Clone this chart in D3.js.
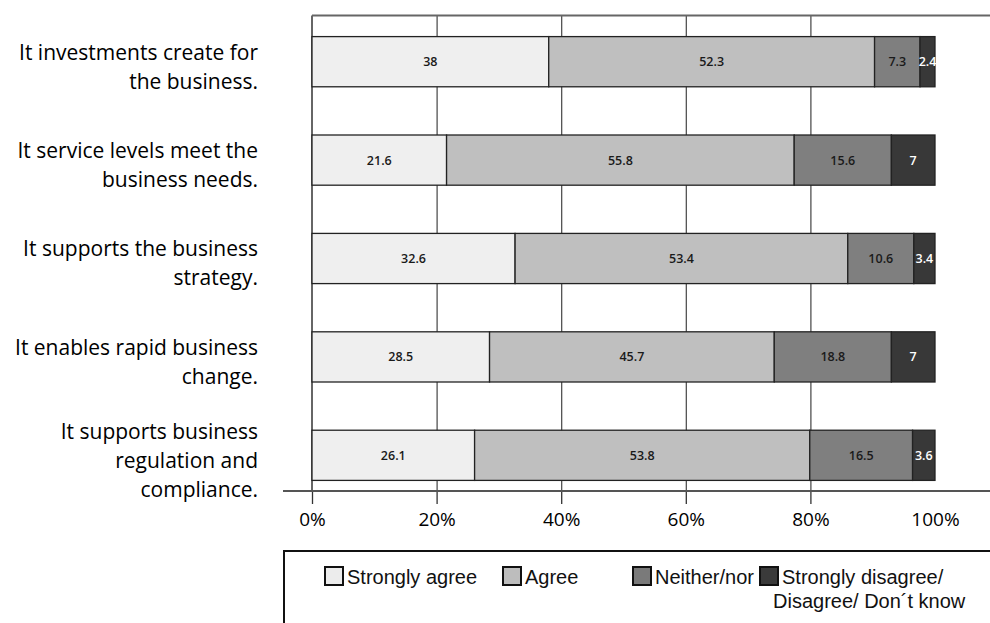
<!DOCTYPE html>
<html>
<head>
<meta charset="utf-8">
<script src="https://cdn.jsdelivr.net/npm/d3@7"></script>
<style>
  body { margin: 0; background: #fff; }
  svg { display: block; }
</style>
</head>
<body>
<svg id="chart"></svg>
<script>
let categories = [
  ["It investments create for", "the business."],
  ["It service levels meet the", "business needs."],
  ["It supports the business", "strategy."],
  ["It enables rapid business", "change."],
  ["It supports business", "regulation and", "compliance."]
]
let stronglyAgree = [38, 21.6, 32.6, 28.5, 26.1]
let agree = [52.3, 55.8, 53.4, 45.7, 53.8]
let neither = [7.3, 15.6, 10.6, 18.8, 16.5]
let disagree = [2.4, 7, 3.4, 7, 3.6]
let seriesNames = ["Strongly agree", "Agree", "Neither/nor", "Strongly disagree/ Disagree/ Don´t know"]
let tickValues = [0, 20, 40, 60, 80, 100]

let width = 990
let height = 623
let colors = ["#efefef", "#bfbfbf", "#7f7f7f", "#383838"]
let legendColors = ["#ececec", "#bdbdbd", "#7a7a7a", "#3a3a3a"]

let svg = d3.select("#chart").attr("width", width).attr("height", height)

let keys = ["sa", "a", "n", "d"]
let rows = categories.map((c, i) => ({
  idx: i, sa: stronglyAgree[i], a: agree[i], n: neither[i], d: disagree[i]
}))

let xScale = d3.scaleLinear().domain([0, 100]).range([312, 935])
let yScale = d3.scaleBand().domain(d3.range(categories.length))
  .range([12, 505]).paddingInner(0.49).paddingOuter(0.25)

let plotTop = 15.5
let plotBottom = 491

// gridlines between bars
svg.append("g")
  .attr("transform", "translate(0," + plotBottom + ")")
  .call(d3.axisBottom(xScale).tickValues([20, 40, 60, 80]).tickSize(-(plotBottom - plotTop)).tickFormat(""))
  .call(g => g.select(".domain").remove())
  .call(g => g.selectAll("line").attr("stroke", "#444").attr("stroke-width", 1.2))

// frame: top and left
svg.append("line").attr("x1", xScale(0)).attr("x2", width)
  .attr("y1", plotTop).attr("y2", plotTop).attr("stroke", "#666").attr("stroke-width", 2)
svg.append("line").attr("x1", xScale(0)).attr("x2", xScale(0))
  .attr("y1", plotTop).attr("y2", plotBottom).attr("stroke", "#666").attr("stroke-width", 2)

// stacked bars
let stack = d3.stack().keys(keys)(rows)
let layers = svg.append("g").selectAll("g")
  .data(stack).enter().append("g")
  .attr("fill", (d, i) => colors[i])

layers.selectAll("rect")
  .data(d => d).enter().append("rect")
  .attr("x", d => xScale(d[0]))
  .attr("width", d => xScale(d[1]) - xScale(d[0]))
  .attr("y", d => yScale(d.data.idx))
  .attr("height", yScale.bandwidth())
  .attr("stroke", "#222")
  .attr("stroke-width", 1.3)

layers.each(function (layer, li) {
  d3.select(this).selectAll("text")
    .data(layer).enter().append("text")
    .attr("x", d => (xScale(d[0]) + xScale(d[1])) / 2)
    .attr("y", d => yScale(d.data.idx) + yScale.bandwidth() / 2)
    .attr("dy", "0.36em")
    .attr("text-anchor", "middle")
    .attr("font-family", "Open Sans, sans-serif")
    .attr("font-size", 12.5)
    .attr("font-weight", 600)
    .attr("fill", li === 3 ? "#fff" : "#1a1a1a")
    .text(d => d[1] - d[0] > 0 ? d.data[layer.key] : "")
})

// category labels
let lineH = 29
let cat = svg.append("g").selectAll("text")
  .data(categories).enter().append("text")
  .attr("text-anchor", "end")
  .attr("font-family", "Open Sans, sans-serif")
  .attr("font-size", 21)
  .attr("fill", "#000")
  .attr("transform", (d, i) => {
    let cy = yScale(i) + yScale.bandwidth() / 2 + 5
    let y0 = cy - (d.length - 1) * lineH / 2
    return "translate(258," + y0 + ")"
  })
cat.selectAll("tspan")
  .data(d => d).enter().append("tspan")
  .attr("x", 0)
  .attr("y", (d, j) => j * lineH)
  .attr("dy", "0.35em")
  .text(d => d)

// x axis
let xAxis = d3.axisBottom(xScale)
  .tickValues(tickValues)
  .tickSize(13)
  .tickPadding(9)
  .tickFormat(d => d + "%")
let axisG = svg.append("g")
  .attr("transform", "translate(0," + plotBottom + ")")
  .call(xAxis)
axisG.select(".domain").remove()
axisG.selectAll("line").attr("stroke", "#333").attr("stroke-width", 1.3)
  .filter(d => d === 100).remove()
axisG.selectAll("text")
  .attr("font-family", "Open Sans, sans-serif")
  .attr("font-size", 19)
  .attr("fill", "#000")
svg.append("line").attr("x1", 283).attr("x2", width)
  .attr("y1", plotBottom).attr("y2", plotBottom)
  .attr("stroke", "#555").attr("stroke-width", 2)

// legend
let legend = svg.append("g")
legend.append("rect")
  .attr("x", 284).attr("y", 551).attr("width", 720).attr("height", 100)
  .attr("fill", "none").attr("stroke", "#111").attr("stroke-width", 2)
let legendX = [325, 503, 633, 760]
let items = legend.selectAll(".item")
  .data(seriesNames).enter().append("g")
  .attr("class", "item")
  .attr("transform", (d, i) => "translate(" + legendX[i] + ",567)")
items.append("rect")
  .attr("width", 18).attr("height", 18)
  .attr("fill", (d, i) => legendColors[i])
  .attr("stroke", "#111").attr("stroke-width", 2)
items.append("text")
  .attr("font-family", "Liberation Sans, Arial, sans-serif")
  .attr("font-size", 20)
  .attr("fill", "#111")
  .each(function (d, i) {
    let t = d3.select(this)
    if (i === 3) {
      t.append("tspan").attr("x", 22).attr("y", 17).text("Strongly disagree/")
      t.append("tspan").attr("x", 13).attr("y", 41).text("Disagree/ Don´t know")
    } else {
      t.append("tspan").attr("x", 22).attr("y", 17).text(d)
    }
  })
</script>
</body>
</html>
